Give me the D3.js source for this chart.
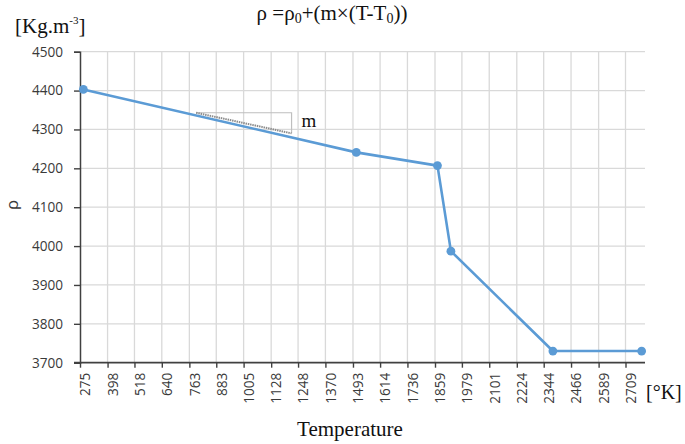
<!DOCTYPE html>
<html>
<head>
<meta charset="utf-8">
<script src="https://cdn.jsdelivr.net/npm/d3@7"></script>
<style>
  html, body { margin: 0; padding: 0; background: #fff; }
  svg { display: block; }
</style>
</head>
<body>
<svg id="chart" width="685" height="444"></svg>
<script>
// ---- data ----
const temperature = [290, 1508, 1870, 1930, 2385, 2781];
const density     = [4403, 4241, 4207, 3987, 3730, 3730];
const xTickLabels = [275, 398, 518, 640, 763, 883, 1005, 1128, 1248, 1370, 1493, 1614, 1736, 1859, 1979, 2101, 2224, 2344, 2466, 2589, 2709];
const yTickLabels = [3700, 3800, 3900, 4000, 4100, 4200, 4300, 4400, 4500];
// slope triangle annotation (data space)
const triT   = [793, 1219];
const triRho = [4343, 4290];

(function () {
// ---- layout ----
const svg = d3.select("#chart");
const mL = 80, mR = 645, mT = 51.7, mB = 362.7;

const x = d3.scaleLinear().domain([275, 2796]).range([mL, mR]);
const y = d3.scaleLinear().domain([3700, 4500]).range([mB, mT]);

const axisColor = "#404040";
const gridColor = "#d9d9d9";
const blue = "#5b9bd5";
const sans = "'Open Sans', 'Noto Sans', sans-serif";
const serif = "'Liberation Serif', 'DejaVu Serif', serif";

// gridlines
svg.append("g")
  .selectAll("line").data(yTickLabels.slice(1)).join("line")
  .attr("x1", mL).attr("x2", mR)
  .attr("y1", d => y(d)).attr("y2", d => y(d))
  .attr("stroke", gridColor).attr("stroke-width", 1.3);
svg.append("g")
  .selectAll("line").data(xTickLabels.slice(1)).join("line")
  .attr("x1", d => x(d)).attr("x2", d => x(d))
  .attr("y1", mT).attr("y2", mB)
  .attr("stroke", gridColor).attr("stroke-width", 1.3);

// axes
const yAxis = d3.axisLeft(y).tickValues(yTickLabels).tickSize(6).tickPadding(11).tickFormat(d3.format("d"));
const gy = svg.append("g").attr("transform", `translate(${mL},0)`).call(yAxis);
gy.select(".domain").attr("stroke", axisColor).attr("stroke-width", 1.5);
gy.selectAll(".tick line").attr("stroke", axisColor).attr("stroke-width", 1.4);
gy.selectAll(".tick text").attr("font-family", sans).attr("font-size", 13.6).attr("fill", "#3a3a3a");

const xAxis = d3.axisBottom(x).tickValues(xTickLabels).tickSize(5).tickFormat(d3.format("d"));
const gx = svg.append("g").attr("transform", `translate(0,${mB})`).call(xAxis);
gx.select(".domain").attr("stroke", axisColor).attr("stroke-width", 1.7).attr("d", `M${mL-6},0H${mR}`);
gx.selectAll(".tick line").attr("stroke", axisColor).attr("stroke-width", 1.4);
gx.selectAll(".tick text")
  .attr("font-family", sans).attr("font-size", 13.6).attr("fill", "#3a3a3a")
  .attr("text-anchor", "end")
  .attr("transform", "translate(5,10) rotate(-90)")
  .attr("x", 0).attr("y", 0).attr("dy", "0.35em");

// slope triangle
const tri = svg.append("g");
tri.append("path")
  .attr("d", `M${x(triT[0])},${y(triRho[0])}H${x(triT[1])}V${y(triRho[1])}`)
  .attr("fill", "none").attr("stroke", "#bfbfbf").attr("stroke-width", 1.2);
tri.append("line")
  .attr("x1", x(triT[0])).attr("y1", y(triRho[0]))
  .attr("x2", x(triT[1])).attr("y2", y(triRho[1]))
  .attr("stroke", "#8c8c8c").attr("stroke-width", 2).attr("stroke-dasharray", "1.5,0.8");
svg.append("text").attr("x", x(triT[1]) + 10).attr("y", y(triRho[1]) - 6)
  .attr("font-family", serif).attr("font-size", 19).attr("fill", "#111").text("m");

// line + markers
const pts = temperature.map((t, i) => [t, density[i]]);
svg.append("path")
  .datum(pts)
  .attr("d", d3.line().x(d => x(d[0])).y(d => y(d[1])))
  .attr("fill", "none").attr("stroke", blue).attr("stroke-width", 2.6).attr("stroke-linejoin", "round");
svg.append("g").selectAll("circle").data(pts).join("circle")
  .attr("cx", d => x(d[0])).attr("cy", d => y(d[1])).attr("r", 4.4)
  .attr("fill", blue);

// texts
const title = svg.append("text").attr("x", 332).attr("y", 20)
  .attr("text-anchor", "middle").attr("font-family", serif).attr("font-size", 21).attr("fill", "#111");
title.append("tspan").text("ρ =ρ");
title.append("tspan").attr("font-size", 14).attr("dy", 3).text("0");
title.append("tspan").attr("dy", -3).text("+(m×(T-T");
title.append("tspan").attr("font-size", 14).attr("dy", 3).text("0");
title.append("tspan").attr("dy", -3).text("))");

const unit = svg.append("text").attr("x", 15).attr("y", 33)
  .attr("font-family", serif).attr("font-size", 21).attr("fill", "#111");
unit.append("tspan").text("[Kg.m");
unit.append("tspan").attr("font-size", 11).attr("dy", -9).text("-3");
unit.append("tspan").attr("dy", 9).text("]");

svg.append("text").attr("transform", "translate(18,205) rotate(-90)")
  .attr("text-anchor", "middle").attr("font-family", "'Liberation Sans', Arial, sans-serif")
  .attr("font-size", 17).attr("fill", "#3a3a3a")
  .text("ρ");

svg.append("text").attr("x", 350).attr("y", 436)
  .attr("text-anchor", "middle").attr("font-family", serif).attr("font-size", 21).attr("fill", "#111")
  .text("Temperature");

svg.append("text").attr("x", 646).attr("y", 399)
  .attr("font-family", serif).attr("font-size", 20).attr("fill", "#111")
  .text("[°K]");
})();
</script>
</body>
</html>
